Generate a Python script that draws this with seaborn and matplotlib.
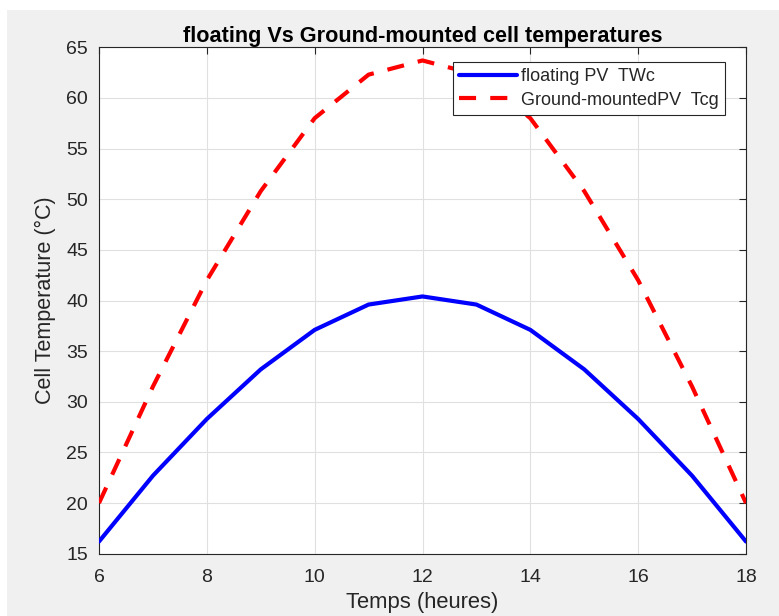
import matplotlib
matplotlib.use("Agg")
import matplotlib.pyplot as plt
import seaborn as sns
import pandas as pd
from matplotlib.patches import Rectangle

hours = [6, 7, 8, 9, 10, 11, 12, 13, 14, 15, 16, 17, 18]
floating_twc = [16.2, 22.7, 28.3, 33.2, 37.1, 39.6, 40.4, 39.6, 37.1, 33.2, 28.3, 22.7, 16.2]
ground_tcg = [20.0, 31.5, 42.0, 50.8, 58.0, 62.3, 63.7, 62.3, 58.0, 50.8, 42.0, 31.5, 20.0]
series_names = ["floating PV  TWc", "Ground-mountedPV  Tcg"]
x_ticks = [6, 8, 10, 12, 14, 16, 18]
y_ticks = [15, 20, 25, 30, 35, 40, 45, 50, 55, 60, 65]

sns.set_style("white")
plt.rcParams["font.family"] = ["Liberation Sans", "DejaVu Sans"]
txt = "#262626"

W, H = 779, 616
fig = plt.figure(figsize=(W / 100, H / 100), dpi=100)
fig.patch.set_facecolor("white")
fig.patches.append(Rectangle((7 / W, 0), 1 - 7 / W, (H - 10) / H, transform=fig.transFigure,
                             facecolor="#f0f0f0", edgecolor="none", zorder=-10))

ax = fig.add_axes([99 / W, (H - 553.7) / H, (746 - 99) / W, (553.7 - 47.3) / H])
ax.set_zorder(5)
ax.set_facecolor("white")

df_f = pd.DataFrame({"h": hours, "t": floating_twc})
df_g = pd.DataFrame({"h": hours, "t": ground_tcg})
sns.lineplot(data=df_f, x="h", y="t", ax=ax, color="#0000ff", linewidth=3.0,
             label=series_names[0], zorder=3)
sns.lineplot(data=df_g, x="h", y="t", ax=ax, color="#ff0000", linewidth=3.0,
             label=series_names[1], zorder=3)
ax.lines[1].set_dashes((4.1, 3.4))

ax.set_xlim(6, 18)
ax.set_ylim(15, 65)
ax.set_xticks(x_ticks)
ax.set_yticks(y_ticks)
ax.grid(True, color="#e0e0e0", linewidth=0.8)
ax.tick_params(direction="in", length=5, width=0.8, colors=txt, labelsize=14,
               top=True, right=True)
ax.tick_params(axis="y", pad=8)
ax.tick_params(axis="x", pad=11)
for s in ax.spines.values():
    s.set_color(txt)
    s.set_linewidth(0.8)
    s.set_visible(True)

ax.set_xlabel("Temps (heures)", fontsize=15.8, color=txt, labelpad=4.5)
ax.set_ylabel("Cell Temperature (°C)", fontsize=15.5, color=txt, labelpad=7)
ax.set_title("floating Vs Ground-mounted cell temperatures", fontsize=15.6, fontweight="bold",
             color="black", pad=3.5)

leg = ax.legend(loc="upper right", bbox_to_anchor=(0.967, 0.971), fontsize=13, frameon=True,
                fancybox=False, edgecolor="#262626", framealpha=1, handlelength=3.2,
                handletextpad=0.2, borderpad=0.35, labelspacing=0.35, borderaxespad=0)
leg.get_frame().set_linewidth(0.8)
for t in leg.get_texts():
    t.set_color(txt)

fig.savefig("out.png", dpi=100)
